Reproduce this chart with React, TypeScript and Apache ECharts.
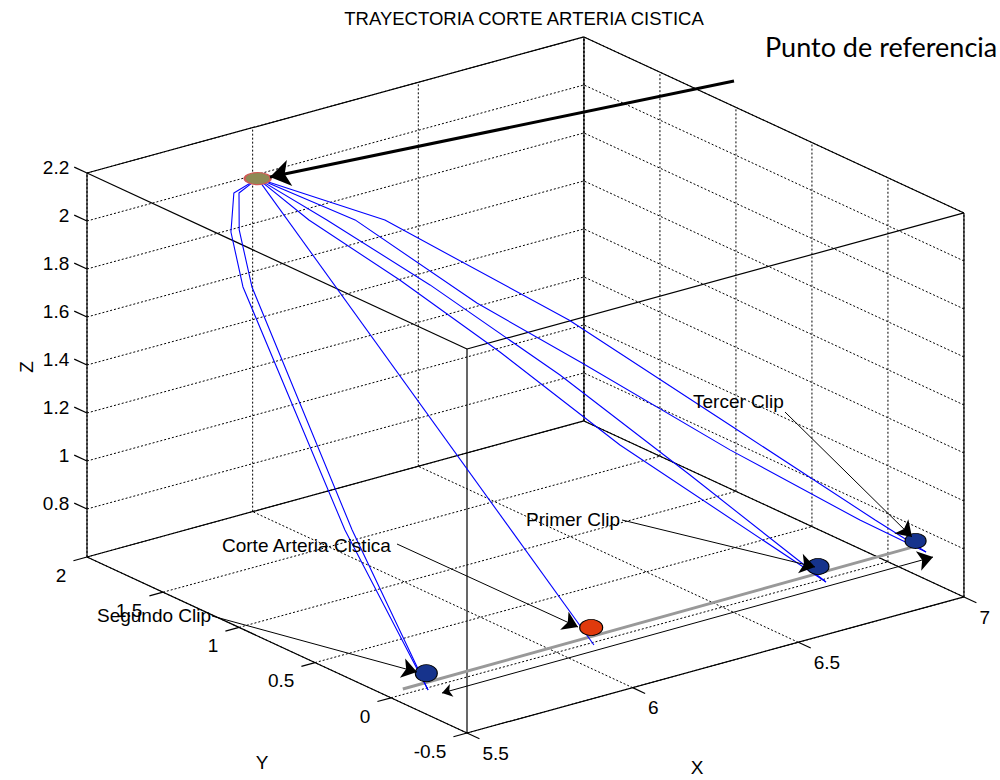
import React, { useEffect, useRef } from "react";
import * as echarts from "echarts";

// ---------------- data (3D, axis units) ----------------
const X_LIM = [5.5, 7];
const Y_LIM = [-0.5, 2];
const Z_LIM = [0.6, 2.2];
const X_TICKS = [5.5, 6, 6.5, 7];
const Y_TICKS = [-0.5, 0, 0.5, 1, 1.5, 2];
const Z_TICKS = [0.8, 1, 1.2, 1.4, 1.6, 1.8, 2, 2.2];
const X_TICK_LABELS = ["5.5", "6", "6.5", "7"];
const Y_TICK_LABELS = ["-0.5", "0", "0.5", "1", "1.5", "2"];
const Z_TICK_LABELS = ["0.8", "1", "1.2", "1.4", "1.6", "1.8", "2", "2.2"];

const REF_POINT = [5.85, 1.64, 2.15];
const CLIP_SEGUNDO = [5.54, -0.145, 0.73];
const CORTE_ARTERIA = [6.04, -0.14, 0.73];
const CLIP_PRIMER = [6.72, -0.15, 0.73];
const CLIP_TERCER = [7.01, -0.16, 0.73];
const ARTERY = [[5.46, -0.165, 0.7], [7.03, -0.143, 0.7]];

const TRAJ_SEGUNDO_1 = [[5.85, 1.64, 2.15], [5.785, 1.655, 2.11], [5.728, 1.55, 2.0], [5.679, 1.364, 1.844], [5.555, 0.423, 1.154], [5.504, -0.235, 0.7]];
const TRAJ_SEGUNDO_2 = [[5.85, 1.64, 2.15], [5.795, 1.643, 2.11], [5.747, 1.537, 2.005], [5.696, 1.342, 1.844], [5.569, 0.406, 1.154], [5.504, -0.235, 0.7]];
const TRAJ_CORTE = [[5.85, 1.64, 2.15], [6.003, -0.239, 0.7]];
const TRAJ_PRIMER_1 = [[5.85, 1.64, 2.15], [5.957, 1.418, 2.002], [6.116, 1.086, 1.769], [6.312, 0.658, 1.445], [6.503, 0.219, 1.085], [6.701, -0.244, 0.7]];
const TRAJ_PRIMER_2 = [[5.85, 1.64, 2.15], [5.923, 1.462, 2.002], [6.061, 1.165, 1.787], [6.211, 0.833, 1.528], [6.387, 0.427, 1.193], [6.701, -0.244, 0.7]];
const TRAJ_TERCER_1 = [[5.85, 1.64, 2.15], [6.078, 1.3, 1.991], [6.4, 0.791, 1.602], [6.682, 0.327, 1.186], [6.926, -0.077, 0.8245], [7.014, -0.22, 0.7]];
const TRAJ_TERCER_2 = [[5.85, 1.64, 2.15], [6.022, 1.374, 1.991], [6.23, 1.026, 1.668], [6.413, 0.733, 1.435], [6.67, 0.32, 1.097], [6.897, -0.04, 0.8245], [7.014, -0.22, 0.7]];

const TITLE = "TRAYECTORIA CORTE ARTERIA CISTICA";

// ---------------- layout (view / annotations in figure pixels) ----------------
const VIEW = { origin: [467, 733], ex: [331.3, -90.7], ey: [-152, -70.4], ez: [0, -240] };
const TICK = { x: 0.082, y: 0.041, z: 0.084 };
const FONT = "19px 'Liberation Sans', Arial, sans-serif";

const TEXT_ARROWS = [
  { text: "Segundo Clip", at: [97, 615], from: [212, 616], to: [417, 672] },
  { text: "Corte Arteria Cistica", at: [222, 545], from: [397, 544], to: [578, 627] },
  { text: "Primer Clip", at: [526, 519], from: [622, 520], to: [815, 567] },
  { text: "Tercer Clip", at: [693, 401], from: [785, 412], to: [912, 537] },
];
const DOUBLE_ARROW = [[442, 693], [933, 557]];
const REF_ARROW = { text: "Punto de referencia", at: [765, 46], from: [734, 81], to: [270, 177] };

function project(p: number[]): number[] {
  const dx = p[0] - X_LIM[0];
  const dy = p[1] - Y_LIM[0];
  const dz = p[2] - Z_LIM[0];
  return [
    VIEW.origin[0] + dx * VIEW.ex[0] + dy * VIEW.ey[0] + dz * VIEW.ez[0],
    VIEW.origin[1] + dx * VIEW.ex[1] + dy * VIEW.ey[1] + dz * VIEW.ez[1],
  ];
}

function buildOption() {
  const series: any[] = [];
  const seg = (pts: number[][], style: any, z: number) => {
    series.push({
      type: "line",
      data: pts.map(project),
      symbol: "none",
      showSymbol: false,
      silent: true,
      animation: false,
      z,
      lineStyle: style,
    });
  };
  const [x0, x1] = X_LIM;
  const [y0, y1] = Y_LIM;
  const [z0, z1] = Z_LIM;
  const dotted = { color: "#000", width: 1, type: [2, 2] };
  const solid = { color: "#000", width: 1.2, type: "solid" };

  // grid lines on back planes
  Z_TICKS.forEach((z) => {
    seg([[x0, y1, z], [x1, y1, z]], dotted, 1);
    seg([[x1, y0, z], [x1, y1, z]], dotted, 1);
  });
  X_TICKS.forEach((x) => {
    seg([[x, y1, z0], [x, y1, z1]], dotted, 1);
    seg([[x, y0, z0], [x, y1, z0]], dotted, 1);
  });
  Y_TICKS.forEach((y) => {
    seg([[x1, y, z0], [x1, y, z1]], dotted, 1);
    seg([[x0, y, z0], [x1, y, z0]], dotted, 1);
  });

  // box edges
  const corners = [
    [x0, y0], [x1, y0], [x1, y1], [x0, y1],
  ];
  for (let i = 0; i < 4; i++) {
    const a = corners[i];
    const b = corners[(i + 1) % 4];
    seg([[a[0], a[1], z0], [b[0], b[1], z0]], solid, 2);
    seg([[a[0], a[1], z1], [b[0], b[1], z1]], solid, 2);
    seg([[a[0], a[1], z0], [a[0], a[1], z1]], solid, 2);
  }

  // ticks
  Z_TICKS.forEach((z) => seg([[x0, y1, z], [x0, y1 + TICK.z, z]], solid, 2));
  Y_TICKS.forEach((y) => seg([[x0, y, z0], [x0 - TICK.y, y, z0]], solid, 2));
  X_TICKS.forEach((x) => seg([[x, y0, z0], [x, y0 - TICK.x, z0]], solid, 2));

  // artery (gray)
  seg(ARTERY, { color: "#999999", width: 3 }, 5);

  // trajectories
  [TRAJ_SEGUNDO_1, TRAJ_SEGUNDO_2, TRAJ_CORTE, TRAJ_PRIMER_1, TRAJ_PRIMER_2, TRAJ_TERCER_1, TRAJ_TERCER_2].forEach((t) =>
    seg(t, { color: "#0000ff", width: 1.1 }, 6)
  );

  // markers
  const marker = (p: number[], size: number[], color: string, border: string, bw: number) => {
    series.push({
      type: "scatter",
      data: [project(p)],
      symbol: "circle",
      symbolSize: size,
      silent: true,
      z: 8,
      itemStyle: { color, borderColor: border, borderWidth: bw, opacity: 1 },
    });
  };
  marker(REF_POINT, [26, 12], "#8e8a55", "#d05a55", 1.6);
  marker(CLIP_SEGUNDO, [22, 17], "#16338c", "#000", 1);
  marker(CORTE_ARTERIA, [23, 16], "#e03a0c", "#000", 1);
  marker(CLIP_PRIMER, [22, 16], "#16338c", "#000", 1);
  marker(CLIP_TERCER, [21, 15], "#16338c", "#000", 1);

  // annotation arrows
  series.push({
    type: "lines",
    coordinateSystem: "cartesian2d",
    silent: true,
    z: 12,
    symbol: ["none", "arrow"],
    symbolSize: [10, 15],
    lineStyle: { color: "#000", width: 1, opacity: 1, curveness: 0 },
    itemStyle: { color: "#000" },
    data: TEXT_ARROWS.map((a) => ({ coords: [a.from, a.to] })),
  });
  series.push({
    type: "lines",
    coordinateSystem: "cartesian2d",
    silent: true,
    z: 12,
    symbol: ["arrow", "arrow"],
    symbolSize: [10, 15],
    lineStyle: { color: "#000", width: 1, opacity: 1, curveness: 0 },
    data: [{ coords: DOUBLE_ARROW }],
  });
  series.push({
    type: "lines",
    coordinateSystem: "cartesian2d",
    silent: true,
    z: 12,
    symbol: ["none", "arrow"],
    symbolSize: [14, 20],
    lineStyle: { color: "#000", width: 3, opacity: 1, curveness: 0 },
    data: [{ coords: [REF_ARROW.from, REF_ARROW.to] }],
  });

  // texts
  type T = { pos: number[]; text: string; align: string; v: string; dx: number; dy: number; font: string; rot?: number };
  const texts: T[] = [];
  Z_TICKS.forEach((z, i) =>
    texts.push({ pos: project([x0, y1 + TICK.z, z]), text: Z_TICK_LABELS[i], align: "right", v: "middle", dx: -5, dy: 0, font: FONT })
  );
  Y_TICKS.forEach((y, i) =>
    texts.push({ pos: project([x0 - TICK.y, y, z0]), text: Y_TICK_LABELS[i], align: "right", v: "middle", dx: -7, dy: 14.5, font: FONT })
  );
  X_TICKS.forEach((x, i) =>
    texts.push({ pos: project([x, y0 - TICK.x, z0]), text: X_TICK_LABELS[i], align: "left", v: "middle", dx: 3, dy: 14.5, font: FONT })
  );
  texts.push({ pos: [697, 767], text: "X", align: "center", v: "middle", dx: 0, dy: 0, font: FONT });
  texts.push({ pos: [262, 762], text: "Y", align: "center", v: "middle", dx: 0, dy: 0, font: FONT });
  texts.push({ pos: [26, 367], text: "Z", align: "center", v: "middle", dx: 0, dy: 0, font: FONT, rot: Math.PI / 2 });
  texts.push({ pos: [524, 18], text: TITLE, align: "center", v: "middle", dx: 0, dy: 0, font: "18.5px 'Liberation Sans', Arial, sans-serif" });
  TEXT_ARROWS.forEach((a) => texts.push({ pos: a.at, text: a.text, align: "left", v: "middle", dx: 0, dy: 0, font: FONT }));
  texts.push({ pos: REF_ARROW.at, text: REF_ARROW.text, align: "left", v: "middle", dx: 0, dy: 0, font: "27px Lato, 'Open Sans', sans-serif" });

  series.push({
    type: "custom",
    coordinateSystem: "cartesian2d",
    silent: true,
    z: 20,
    clip: false,
    data: texts.map((t, i) => [t.pos[0], t.pos[1], i]),
    renderItem: (params: any, api: any) => {
      const t = texts[params.dataIndex];
      const p = api.coord([api.value(0), api.value(1)]);
      return {
        type: "text",
        x: p[0] + t.dx,
        y: p[1] + t.dy,
        rotation: t.rot || 0,
        style: { text: t.text, fill: "#000", font: t.font, align: t.align, verticalAlign: t.v },
      };
    },
  });

  return {
    animation: false,
    backgroundColor: "#ffffff",
    grid: { left: 0, right: 0, top: 0, bottom: 0, containLabel: false },
    xAxis: { type: "value", min: 0, max: 1000, show: false },
    yAxis: { type: "value", min: 0, max: 780, inverse: true, show: false },
    series,
  };
}

export default function App() {
  const ref = useRef<HTMLDivElement>(null);
  useEffect(() => {
    if (!ref.current) return;
    const chart = echarts.init(ref.current, undefined, { renderer: "svg" });
    chart.setOption(buildOption() as any);
    return () => chart.dispose();
  }, []);
  return (
    <div
      ref={ref}
      style={{ position: "absolute", left: 0, top: 0, width: 1000, height: 780, background: "#fff" }}
    />
  );
}
